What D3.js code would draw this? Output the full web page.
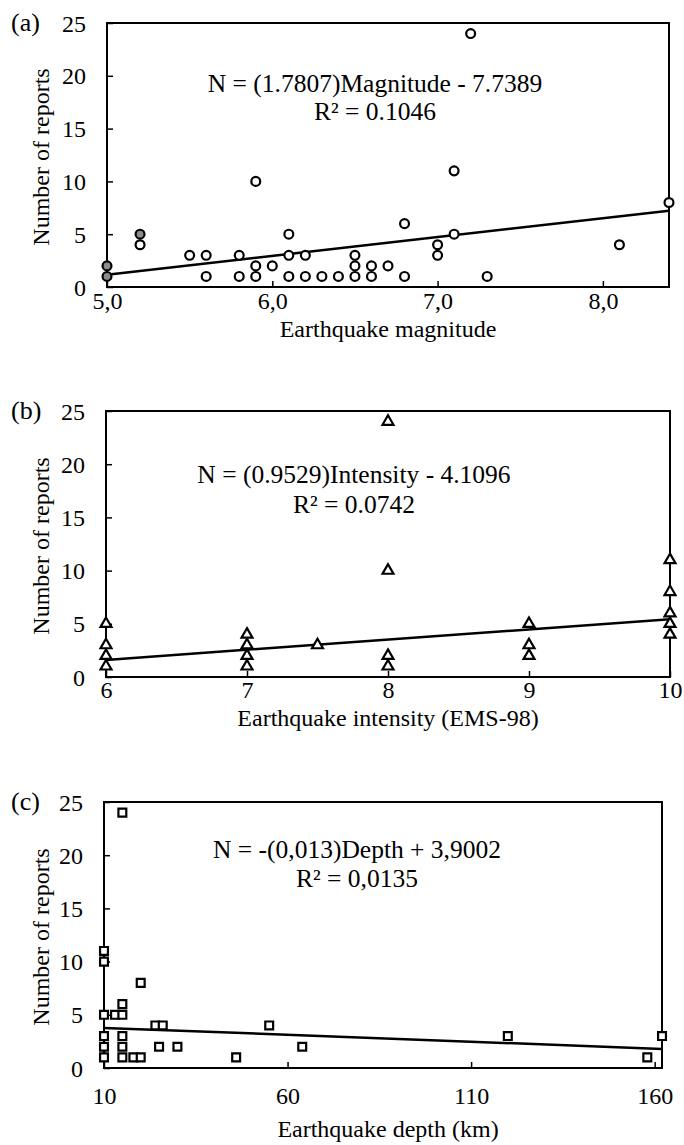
<!DOCTYPE html>
<html>
<head>
<meta charset="utf-8">
<script src="https://cdn.jsdelivr.net/npm/d3@7"></script>
<style>
  body { margin: 0; background: #fff; }
  text { font-family: "Liberation Serif", "Times New Roman", serif; fill: #000; }
</style>
</head>
<body>
<div class="chart"></div>
<script>
// (a) magnitude vs reports
const magnitude = [5.2, 5.5, 5.6, 5.6, 5.8, 5.8, 5.9, 5.9, 5.9, 6.0, 6.1, 6.1, 6.1, 6.2, 6.2, 6.3, 6.4, 6.5, 6.5, 6.5, 6.6, 6.6, 6.7, 6.8, 6.8, 7.0, 7.0, 7.1, 7.1, 7.2, 7.3, 8.1, 8.4]
const magReports = [4, 3, 3, 1, 3, 1, 10, 2, 1, 2, 5, 3, 1, 3, 1, 1, 1, 3, 2, 1, 2, 1, 2, 6, 1, 4, 3, 11, 5, 24, 1, 4, 8]
// grey (shaded) markers in panel a
const magnitudeGrey = [5.0, 5.0, 5.2]
const magReportsGrey = [2, 1, 5]

// (b) intensity vs reports
const intensity = [6, 6, 6, 6, 7, 7, 7, 7, 7.5, 8, 8, 8, 8, 9, 9, 9, 10, 10, 10, 10, 10]
const intReports = [5, 3, 2, 1, 4, 3, 2, 1, 3, 24, 10, 2, 1, 5, 3, 2, 11, 8, 6, 5, 4]

// (c) depth vs reports
const depth = [15, 10, 10, 10, 13, 15, 15, 20, 24, 26, 10, 10, 10, 15, 15, 15, 18, 20, 25, 30, 46, 55, 64, 120, 158, 162]
const depReports = [24, 11, 10, 5, 5, 5, 6, 8, 4, 4, 3, 2, 1, 3, 2, 1, 1, 1, 2, 2, 1, 4, 2, 3, 1, 3]

// trendlines [slope, intercept]
const magFit = [1.7807, -7.7389]
const intFit = [0.9529, -4.1096]
const depFit = [-0.013, 3.9002]

const yTicks = [0, 5, 10, 15, 20, 25]
const magTicks = [5, 6, 7, 8]
const intTicks = [6, 7, 8, 9, 10]
const depTicks = [10, 60, 110, 160]

const W = 684, H = 1145

const svg = d3.select(".chart")
    .append("svg")
    .attr("width", W)
    .attr("height", H)

function panel(opt){
    const g = svg.append("g")

    const x = d3.scaleLinear().domain(opt.xDomain).range([opt.left, opt.right])
    const y = d3.scaleLinear().domain([0, 25]).range([opt.bottom, opt.top])

    // frame
    g.append("rect")
        .attr("x", opt.left).attr("y", opt.top)
        .attr("width", opt.right - opt.left)
        .attr("height", opt.bottom - opt.top)
        .attr("fill", "none")
        .attr("stroke", "#000")
        .attr("stroke-width", 2)

    const yAxis = d3.axisLeft(y).tickValues(yTicks).tickSize(-6).tickPadding(21)
    const yg = g.append("g").attr("transform", `translate(${opt.left},0)`).call(yAxis)

    const xAxis = d3.axisBottom(x).tickValues(opt.xTicks).tickSize(-6)
        .tickPadding(opt.xPad).tickFormat(opt.fmt)
    const xg = g.append("g").attr("transform", `translate(0,${opt.bottom})`).call(xAxis)

    ;[yg, xg].forEach(a => {
        a.select(".domain").remove()
        a.selectAll(".tick line").attr("stroke", "#000").attr("stroke-width", 1.5)
        a.selectAll(".tick text").attr("font-size", 24)
            .attr("font-family", '"Liberation Serif", "Times New Roman", serif')
    })
    yg.selectAll(".tick text").attr("dy", "0.34em")

    // panel label
    g.append("text")
        .attr("x", 11).attr("y", opt.top + 8)
        .attr("font-size", 26)
        .text(opt.label)

    // axis titles
    g.append("text")
        .attr("transform", `translate(41,${(opt.top + opt.bottom) / 2 + 2}) rotate(-90)`)
        .attr("text-anchor", "middle")
        .attr("dominant-baseline", "central")
        .attr("font-size", 24)
        .text("Number of reports")

    g.append("text")
        .attr("x", 388).attr("y", opt.titleY)
        .attr("text-anchor", "middle")
        .attr("font-size", 24)
        .text(opt.xTitle)

    // trendline
    const fit = opt.fit
    const line = d3.line().x(d => x(d)).y(d => y(fit[0] * d + fit[1]))
    g.append("path")
        .datum(opt.xDomain)
        .attr("d", line)
        .attr("fill", "none")
        .attr("stroke", "#000")
        .attr("stroke-width", 2.5)

    // equation
    const eq = g.append("text")
        .attr("text-anchor", "middle")
        .attr("font-size", 25.5)
    eq.append("tspan").attr("x", opt.eqX).attr("y", opt.eqY).text(opt.eq[0])
    eq.append("tspan").attr("x", opt.eqX).attr("y", opt.eqY + opt.eqGap).text(opt.eq[1])

    // markers
    opt.series.forEach(s => {
        const pts = s.xs.map((v, i) => [v, s.ys[i]])
        g.append("g").selectAll("path")
            .data(pts)
            .join("path")
            .attr("transform", d => `translate(${x(d[0])},${y(d[1])})`)
            .attr("d", d3.symbol().type(opt.symbol).size(opt.symbolSize))
            .attr("fill", s.fill)
            .attr("stroke", "#000")
            .attr("stroke-width", 2.2)
    })
}

panel({
    label: "(a)",
    xDomain: [5, 8.4], xTicks: magTicks, fmt: d => d3.format(".1f")(d).replace(".", ","),
    left: 107, right: 669, top: 23, bottom: 287, xPad: 5, titleY: 337,
    xTitle: "Earthquake magnitude",
    fit: magFit,
    eq: ["N = (1.7807)Magnitude - 7.7389", "R² = 0.1046"], eqX: 375, eqY: 92, eqGap: 28,
    symbol: d3.symbolCircle, symbolSize: 62,
    series: [
        {xs: magnitude, ys: magReports, fill: "#fff"},
        {xs: magnitudeGrey, ys: magReportsGrey, fill: "#8c8c8c"}
    ]
})

panel({
    label: "(b)",
    xDomain: [6, 10], xTicks: intTicks, fmt: d3.format("d"),
    left: 106, right: 670, top: 411, bottom: 677, xPad: 4, titleY: 726,
    xTitle: "Earthquake intensity (EMS-98)",
    fit: intFit,
    eq: ["N = (0.9529)Intensity - 4.1096", "R² = 0.0742"], eqX: 354, eqY: 483, eqGap: 30,
    symbol: d3.symbolTriangle, symbolSize: 52,
    series: [{xs: intensity, ys: intReports, fill: "#fff"}]
})

panel({
    label: "(c)",
    xDomain: [10, 162], xTicks: depTicks, fmt: d3.format("d"),
    left: 104, right: 662, top: 802, bottom: 1068, xPad: 19, titleY: 1137,
    xTitle: "Earthquake depth (km)",
    fit: depFit,
    eq: ["N = -(0,013)Depth + 3,9002", "R² = 0,0135"], eqX: 357, eqY: 858, eqGap: 29,
    symbol: d3.symbolSquare, symbolSize: 62,
    series: [{xs: depth, ys: depReports, fill: "#fff"}]
})
</script>
</body>
</html>
